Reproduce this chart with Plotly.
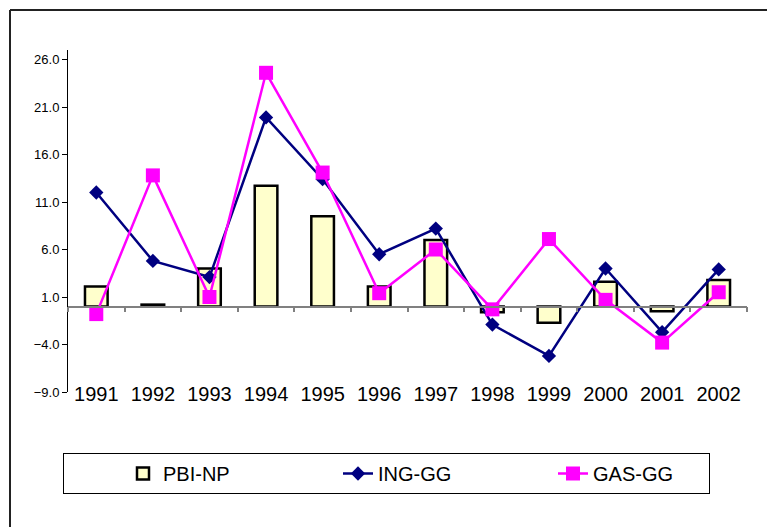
import plotly.graph_objects as go

years = ["1991", "1992", "1993", "1994", "1995", "1996", "1997", "1998", "1999", "2000", "2001", "2002"]
pbi_np = [2.1, 0.2, 4.0, 12.7, 9.5, 2.1, 7.0, -0.6, -1.7, 2.6, -0.5, 2.8]
ing_gg = [12.0, 4.8, 3.1, 19.9, 13.4, 5.5, 8.2, -1.9, -5.2, 4.0, -2.7, 3.9]
gas_gg = [-0.8, 13.8, 1.0, 24.6, 14.1, 1.4, 6.0, -0.3, 7.1, 0.7, -3.8, 1.5]
y_ticks = [-9, -4, 1, 6, 11, 16, 21, 26]
y_range = [-9, 27]

fig = go.Figure()
fig.add_trace(go.Bar(
    x=years, y=pbi_np, name="PBI-NP", width=0.4,
    marker=dict(color="#FFFFCC", line=dict(color="#000000", width=2.5)),
))
fig.add_trace(go.Scatter(
    x=years, y=ing_gg, name="ING-GG", mode="lines+markers",
    line=dict(color="#000080", width=2.5),
    marker=dict(symbol="diamond", size=11, color="#000080"),
))
fig.add_trace(go.Scatter(
    x=years, y=gas_gg, name="GAS-GG", mode="lines+markers",
    line=dict(color="#FF00FF", width=2.5),
    marker=dict(symbol="square", size=14, color="#FF00FF"),
))

zero_pos = (0 - y_range[0]) / (y_range[1] - y_range[0])

fig.update_layout(
    width=767, height=527,
    margin=dict(l=68, r=20, t=50, b=135, autoexpand=False),
    paper_bgcolor="white", plot_bgcolor="white",
    font=dict(family="Liberation Sans, Arial, sans-serif", color="#000000"),
    showlegend=True,
    legend=dict(
        orientation="h", xref="container", yref="container",
        x=63/767, y=1 - 453/527, xanchor="left", yanchor="top",
        bordercolor="#000000", borderwidth=1, bgcolor="white",
        font=dict(size=20, color="#000000"),
        entrywidth=111, indentation=59, traceorder="normal",
    ),
    xaxis=dict(
        type="category", categoryorder="array", categoryarray=years,
        range=[-0.5, len(years) - 0.5],
        anchor="free", position=zero_pos, automargin=False,
        showline=True, linecolor="#808080", linewidth=1.5,
        ticks="outside", tickson="boundaries", ticklen=5, tickcolor="#808080", tickwidth=1.5,
        showgrid=False, zeroline=False, tickangle=0,
        tickfont=dict(size=20, color="#000000"),
        ticklabelstandoff=70,
    ),
    yaxis=dict(
        range=y_range, tickvals=y_ticks, tickformat=".1f", automargin=False,
        showline=True, linecolor="#000000", linewidth=1,
        ticks="outside", ticklen=5, tickcolor="#000000",
        showgrid=False, zeroline=False,
        tickfont=dict(size=13, color="#000000"),
    ),
    shapes=[
        dict(type="line", xref="paper", yref="paper",
             x0=-58/679, x1=1.2, y0=(392-10)/342, y1=(392-10)/342,
             line=dict(color="#222222", width=2)),
        dict(type="line", xref="paper", yref="paper",
             x0=-58/679, x1=-58/679, y0=(392-10)/342, y1=-0.5,
             line=dict(color="#222222", width=2)),
    ],
    annotations=[
        dict(text="(Variación %)", xref="paper", yref="paper",
             x=(592-68)/679, y=(392+2)/342, xanchor="center", yanchor="bottom",
             showarrow=False, font=dict(size=20.5, color="#000000")),
    ],
)

fig.write_html(
    "out.html",
    config={"displayModeBar": False},
    post_script="document.body.style.margin='0px';document.body.style.padding='0px';",
)
